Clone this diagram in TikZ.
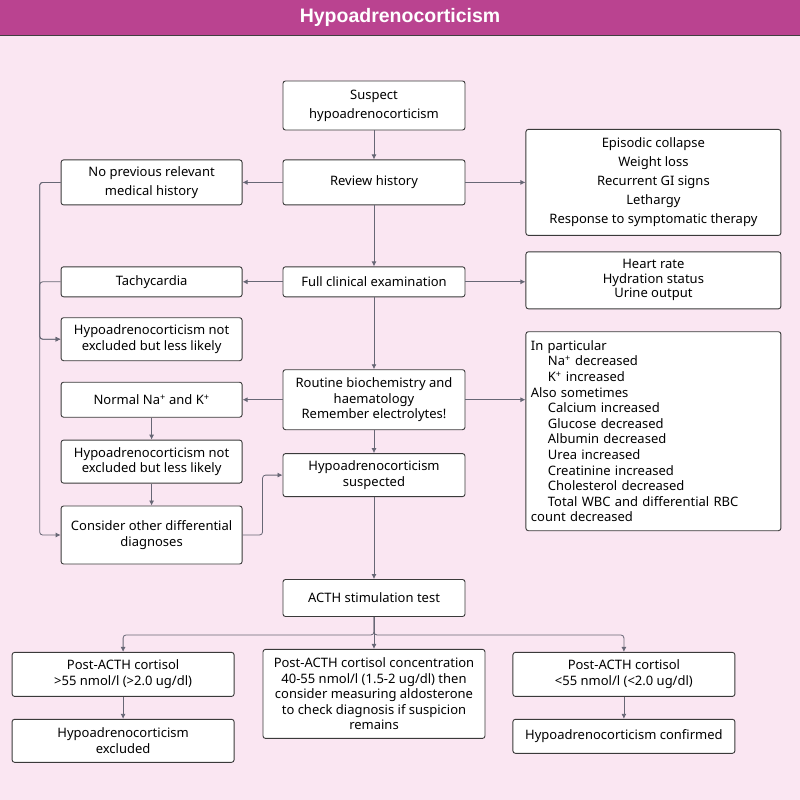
\documentclass[tikz,border=0pt]{standalone}
\usepackage{fontspec}
\setmainfont{Noto Sans}
\newfontfamily\titlefont{Liberation Sans}
\usetikzlibrary{positioning}
\usetikzlibrary{arrows.meta}
\definecolor{titlebar}{HTML}{BA4390}
\definecolor{bgpink}{HTML}{FAE6F2}
\definecolor{edgegrey}{HTML}{676775}
\definecolor{boxline}{HTML}{3A3A3A}

\begin{document}
\begin{tikzpicture}[
        box/.style={draw=boxline, fill=white, rounded corners=2.5pt, line width=0.9pt, align=center,
            inner xsep=2pt, inner ysep=2pt, minimum width=182pt, font=\fontsize{13}{15.6}\selectfont},
        wide/.style={box, minimum width=255pt},
        post/.style={box, minimum width=222pt},
        loose/.style={font=\fontsize{13}{19}\selectfont},
        link/.style={draw=edgegrey, line width=0.8pt, rounded corners=3pt, -{Latex[length=5pt,width=5pt]}}]
            \path[use as bounding box, fill=bgpink] (0,0) rectangle (800pt,-800pt);
            \fill[titlebar] (0,0) rectangle (800pt,-35pt);
            \draw[black!75, line width=1.2pt] (0,-35.5pt) -- (800pt,-35.5pt);
            \node[text=white, font=\titlefont\bfseries\fontsize{19.5}{21}\selectfont] (title) at (400pt,-17pt) {Hypoadrenocorticism};

            \node[box, loose, minimum height=49pt] (S) at (374pt,-105.5pt) {Suspect\\hypoadrenocorticism};
            \node[box, below=29pt of S, minimum height=45pt] (R) {Review history};
            \node[box, below=61pt of R, minimum height=30pt] (F) {Full clinical examination};
            \node[box, below=72pt of F, minimum height=60pt] (B) {Routine biochemistry and\\haematology\\Remember electrolytes!};
            \node[box, below=23pt of B, minimum height=43pt] (HS) {Hypoadrenocorticism\\suspected};
            \node[box, below=82pt of HS, minimum height=37pt] (T) {ACTH stimulation test};

            \node[box, loose, left=40pt of R, minimum width=181pt, minimum height=45pt] (N) {No previous relevant\\medical history};
            \node[box, left=40pt of F, minimum width=181pt, minimum height=30pt] (Ta) {Tachycardia};
            \node[box, below=20pt of Ta, minimum width=181pt, minimum height=43pt] (H1) {Hypoadrenocorticism not\\excluded but less likely};
            \node[box, left=40pt of B, minimum width=181pt, minimum height=35pt] (Na) {Normal Na\textsuperscript{+} and K\textsuperscript{+}};
            \node[box, below=22pt of Na, minimum width=181pt, minimum height=43pt] (H2) {Hypoadrenocorticism not\\excluded but less likely};
            \node[box, below=22pt of H2, minimum width=181pt, minimum height=58pt] (C) {Consider other differential\\diagnoses};

            \node[wide, loose, right=60pt of R, minimum height=106pt] (E) {Episodic collapse\\Weight loss\\Recurrent GI signs\\Lethargy\\Response to symptomatic therapy};
            \node[wide, right=60pt of F, yshift=1.5pt, minimum height=57pt, font=\fontsize{13}{14.5}\selectfont] (HR) {Heart rate\\Hydration status\\Urine output};
            \node[wide, below=22pt of HR, minimum height=199pt, text width=245pt, inner xsep=5pt, align=left] (P) {In particular\\
                \hspace*{17pt}Na\textsuperscript{+} decreased\\
                \hspace*{17pt}K\textsuperscript{+} increased\\
                Also sometimes\\
                \hspace*{17pt}Calcium increased\\
                \hspace*{17pt}Glucose decreased\\
                \hspace*{17pt}Albumin decreased\\
                \hspace*{17pt}Urea increased\\
                \hspace*{17pt}Creatinine increased\\
                \hspace*{17pt}Cholesterol decreased\\
                \hspace*{17pt}Total WBC and differential RBC\\
                count decreased};

            \node[post, below=32pt of T, minimum height=89pt] (M) {Post-ACTH cortisol concentration\\40-55 nmol/l (1.5-2 ug/dl) then\\consider measuring aldosterone\\to check diagnosis if suspicion\\remains};
            \node[post, left=28pt of M.north west, anchor=north east, yshift=-3pt, minimum height=44pt] (PL) {Post-ACTH cortisol\\>55 nmol/l (>2.0 ug/dl)};
            \node[post, right=27pt of M.north east, anchor=north west, yshift=-3pt, minimum height=44pt] (PR) {Post-ACTH cortisol\\<55 nmol/l (<2.0 ug/dl)};
            \node[post, below=22pt of PL, minimum height=43pt] (X) {Hypoadrenocorticism\\excluded};
            \node[post, below=22pt of PR, minimum height=34pt] (Co) {Hypoadrenocorticism confirmed};
            \coordinate[below=18pt of T] (J);

            \draw[link] (S) -- (R);
            \draw[link] (R) -- (N);
            \draw[link] (R.east) -- (R.east -| E.west);
            \draw[link] (R) -- (F);
            \draw[link] (F) -- (Ta);
            \draw[link] (F.east) -- (F.east -| HR.west);
            \draw[link] (F) -- (B);
            \draw[link] (B.west) -- (B.west -| Na.east);
            \draw[link] (B.east) -- (B.east -| P.west);
            \draw[link] (B) -- (HS);
            \draw[link] (Na) -- (H2);
            \draw[link] (H2) -- (C);
            \draw[link] (C.east) -- ++(20pt,0) |- (HS.west);
            \draw[link] (N.west) -- ++(-21pt,0) |- (H1.west);
            \draw[link] (Ta.west) -- ++(-21pt,0) |- (H1.west);
            \draw[link] (N.west) -- ++(-21pt,0) |- (C.west);
            \draw[link] (HS) -- (T);
            \draw[link] (T) -- (M);
            \draw[link] (T.south) -- (J) -| (PL);
            \draw[link] (T.south) -- (J) -| (PR);
            \draw[link] (PL) -- (X);
            \draw[link] (PR) -- (Co);
        \end{tikzpicture}
\end{document}
